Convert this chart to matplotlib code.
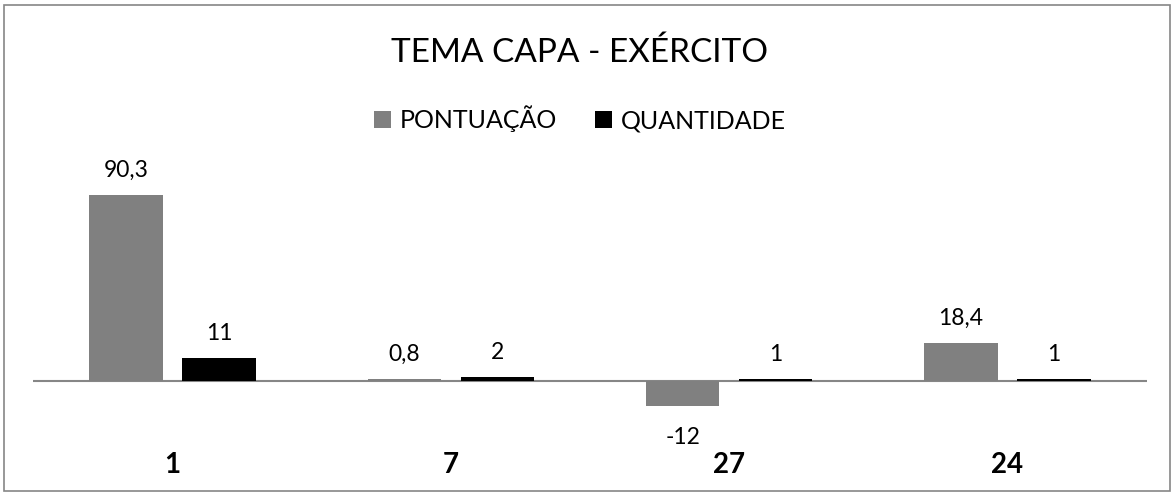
import numpy as np
import matplotlib
matplotlib.use('Agg')
import matplotlib.pyplot as plt
from matplotlib.patches import Patch, Rectangle

plt.rcParams['font.family'] = ['Lato', 'DejaVu Sans']

# data
categories = ['1', '7', '27', '24']
pontuacao = [90.3, 0.8, -12, 18.4]
quantidade = [11, 2, 1, 1]
pontuacao_labels = ['90,3', '0,8', '-12', '18,4']
quantidade_labels = ['11', '2', '1', '1']

W, H = 1174, 495
fig = plt.figure(figsize=(W / 100, H / 100), dpi=100)

# axes placed in pixel units of the reference
left, right, top, bottom = 33.3, 1146.6, 150, 420
ax = fig.add_axes([left / W, 1 - bottom / H, (right - left) / W, (bottom - top) / H])

px_per_unit = 2.06
ax.set_ylim(-(bottom - 381) / px_per_unit, (381 - top) / px_per_unit)
ax.set_xlim(-0.5, len(categories) - 0.5)

x = np.arange(len(categories))
bw = 0.264
off = 0.167
gray = '#808080'
b1 = ax.bar(x - off, pontuacao, bw, color=gray, zorder=2)
b2 = ax.bar(x + off, quantidade, bw, color='black', zorder=2)

ax.axhline(0, color='#868686', lw=1.5, zorder=1)

for xi, v, lab in zip(x - off, pontuacao, pontuacao_labels):
    if v >= 0:
        ax.annotate(lab, (xi, v), xytext=(0, 13), textcoords='offset points',
                    ha='center', va='baseline', fontsize=16.5)
    else:
        ax.annotate(lab, (xi, v), xytext=(0, -27.5), textcoords='offset points',
                    ha='center', va='baseline', fontsize=16.5)
for xi, v, lab in zip(x + off, quantidade, quantidade_labels):
    ax.annotate(lab, (xi, v), xytext=(0, 13), textcoords='offset points',
                ha='center', va='baseline', fontsize=16.5)

for xi, cat in zip(x, categories):
    ax.annotate(cat, (xi, 0), xytext=(0, -66.2), textcoords='offset points',
                ha='center', va='baseline', fontsize=20, fontweight='bold')

ax.axis('off')

fig.text(580 / W, 1 - 62 / H, 'TEMA CAPA - EXÉRCITO', ha='center', va='baseline', fontsize=24)

handles = [Patch(facecolor=gray, edgecolor='none', label='PONTUAÇÃO'),
           Patch(facecolor='black', edgecolor='none', label='QUANTIDADE')]
fig.legend(handles=handles, loc='center', bbox_to_anchor=(580 / W, 1 - 119 / H), ncol=2,
           frameon=False, fontsize=18, handlelength=0.68, handleheight=0.68,
           handletextpad=0.36, columnspacing=1.5, borderpad=0)

# chart border
fig.patches.append(Rectangle((3.5 / W, 4.5 / H), (1170 - 3.5) / W, (490.5 - 4.5) / H,
                             transform=fig.transFigure, fill=False, edgecolor='#868686', lw=1.2))

fig.savefig('out.png', dpi=100)
